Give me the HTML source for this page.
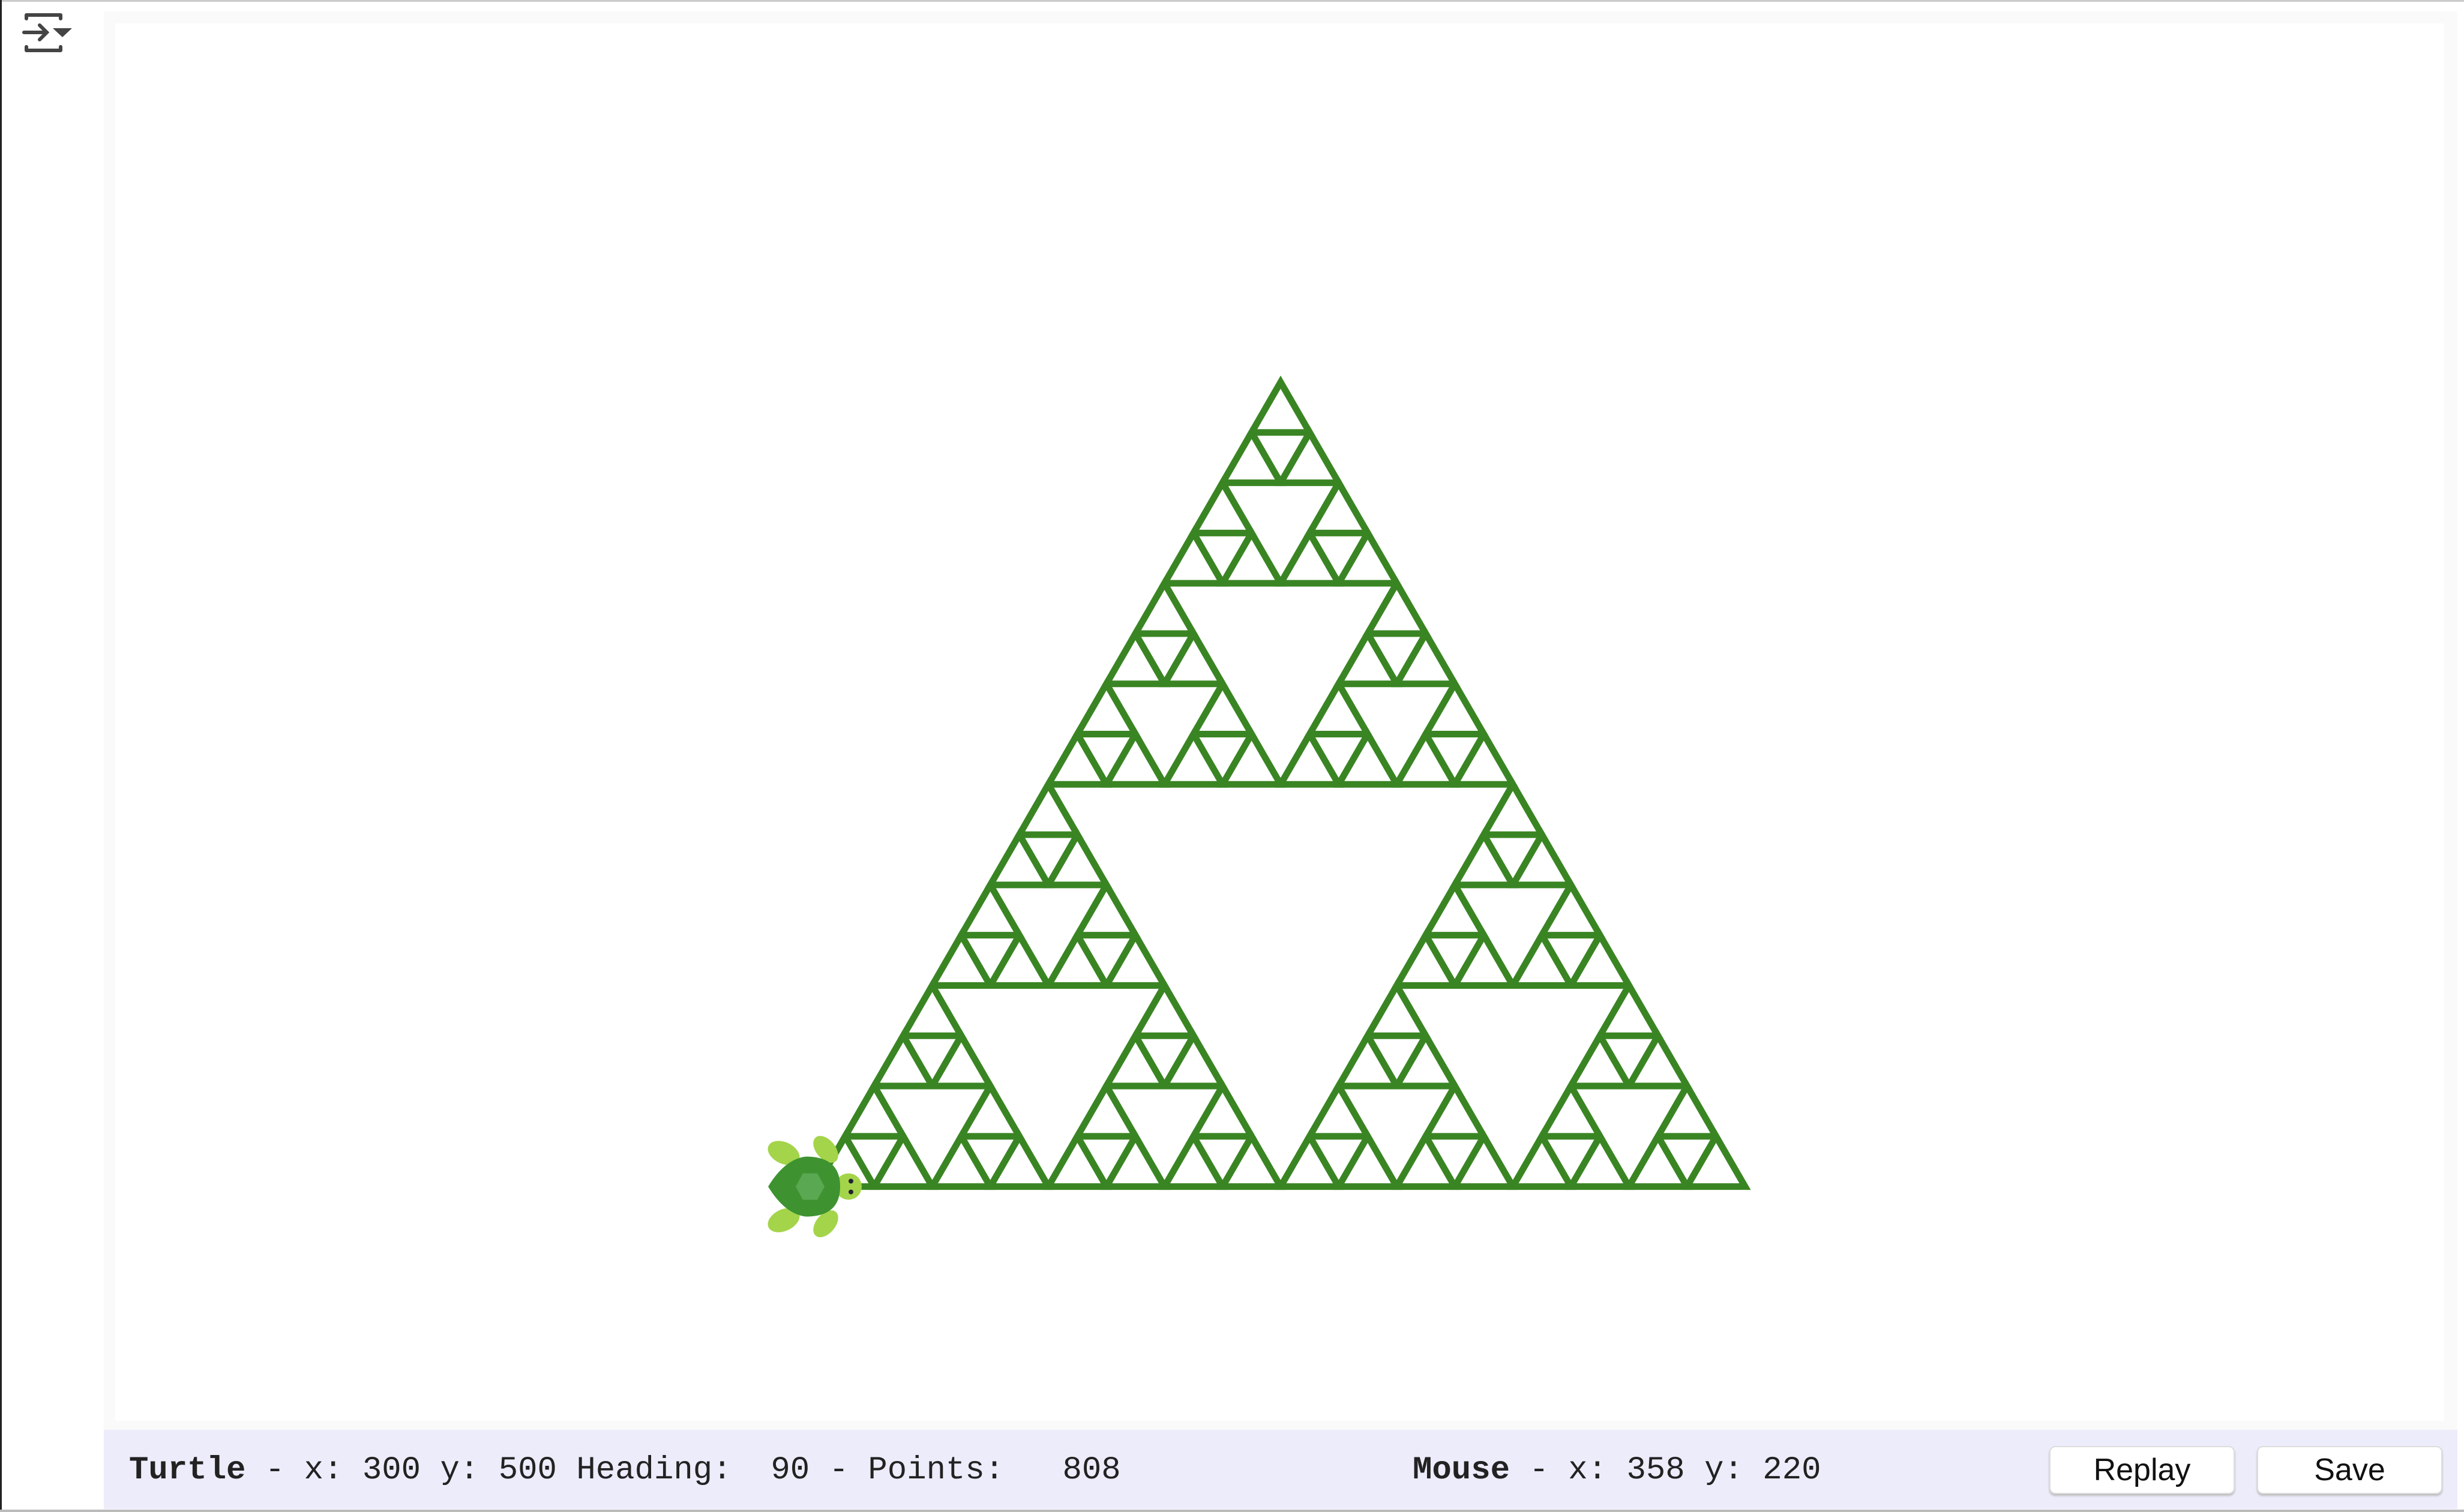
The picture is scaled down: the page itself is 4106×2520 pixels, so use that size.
<!DOCTYPE html>
<html><head><meta charset="utf-8"><style>
html,body{margin:0;padding:0;width:4106px;height:2520px;overflow:hidden;background:#fff;position:relative}
.abs{position:absolute}
.mono{font-family:"Liberation Mono",monospace;font-size:54px;color:#222}
.btn{position:absolute;background:#fff;border:2px solid #ddd;border-radius:10px;box-shadow:0 3px 3px #bbb;font-family:"Liberation Sans",sans-serif;font-size:52px;text-align:center;line-height:76px;color:#111}
</style></head><body>
<div class="abs" style="left:0;top:0;width:4106px;height:3px;background:#ccc"></div>
<div class="abs" style="left:0;top:0;width:3px;height:2520px;background:#222"></div>
<div class="abs" style="left:0;top:2516px;width:4106px;height:4px;background:#bbb"></div>
<svg class="abs" style="left:0;top:0" width="140" height="110" viewBox="0 0 140 110">
<path d="M44 31 V25 H101 V31 M44 78 V84 H101 V78" fill="none" stroke="#444" stroke-width="6" stroke-linejoin="round" stroke-linecap="round"/>
<path d="M40 54 H76 M66 42 L78 54 L66 66" fill="none" stroke="#444" stroke-width="6" stroke-linecap="round"/>
<polygon points="88,47 120,47 104,62" fill="#444"/>
</svg>
<div class="abs" style="left:173px;top:19px;width:3922px;height:2364px;background:#fafafa"></div>
<svg class="abs" id="cv" style="left:192px;top:39px;background:#fff" width="3881" height="2329"></svg>
<div class="abs" style="left:173px;top:2383px;width:3922px;height:132px;background:#ececfb"></div>
<div class="abs mono" style="left:215px;top:2420px;white-space:pre"><b>Turtle</b> - x: 300 y: 500 Heading:  90 - Points:   808</div>
<div class="abs mono" style="left:2354px;top:2420px;white-space:pre"><b>Mouse</b> - x: 358 y: 220</div>
<div class="btn" style="left:3415px;top:2410px;width:305px;height:76px">Replay</div>
<div class="btn" style="left:3761px;top:2410px;width:305px;height:76px">Save</div>
<script>
const depth = [4];
const apex = [2134, 637];
const sideLen = [1548];
const svg = document.getElementById('cv');
const NS = 'http://www.w3.org/2000/svg';
const ox = 192, oy = 39;
function tri(x, y, s, d) {
  const h = s * Math.sqrt(3) / 2;
  if (d === 0) {
    const p = document.createElementNS(NS, 'polygon');
    p.setAttribute('points', `${x-ox},${y-oy} ${x+s-ox},${y-oy} ${x+s/2-ox},${y-h-oy}`);
    p.setAttribute('fill', 'none');
    p.setAttribute('stroke', '#3a8523');
    p.setAttribute('stroke-width', '11');
    
    
    svg.appendChild(p);
    return;
  }
  tri(x, y, s/2, d-1);
  tri(x + s/2, y, s/2, d-1);
  tri(x + s/4, y - h/2, s/2, d-1);
}
const s = sideLen[0], H = s*Math.sqrt(3)/2;
const bx = apex[0] - s/2, by = apex[1] + H;
tri(bx, by, s, depth[0]);
const g = document.createElementNS(NS, 'g');


g.setAttribute('transform', `translate(${bx-ox-12},${by-oy})`);
g.innerHTML = `
<ellipse cx="-42" cy="-56" rx="28" ry="18" fill="#a4d44a" transform="rotate(25 -42 -56)"/>
<ellipse cx="28" cy="-62" rx="26" ry="16" fill="#a4d44a" transform="rotate(50 28 -62)"/>
<ellipse cx="-42" cy="56" rx="28" ry="18" fill="#a4d44a" transform="rotate(-25 -42 56)"/>
<ellipse cx="28" cy="62" rx="26" ry="16" fill="#a4d44a" transform="rotate(-50 28 62)"/>
<circle cx="66" cy="0" r="22" fill="#a4d44a"/>
<circle cx="70" cy="-9" r="4" fill="#223"/><circle cx="70" cy="9" r="4" fill="#223"/>
<path d="M-68 0 Q-40 -46 -5 -50 Q52 -50 52 0 Q52 50 -5 50 Q-40 46 -68 0 Z" fill="#3e9330"/>
<polygon points="-10,-22 14,-22 26,0 14,22 -10,22 -22,0" fill="#5ba852"/>`;
svg.appendChild(g);
</script>
</body></html>
